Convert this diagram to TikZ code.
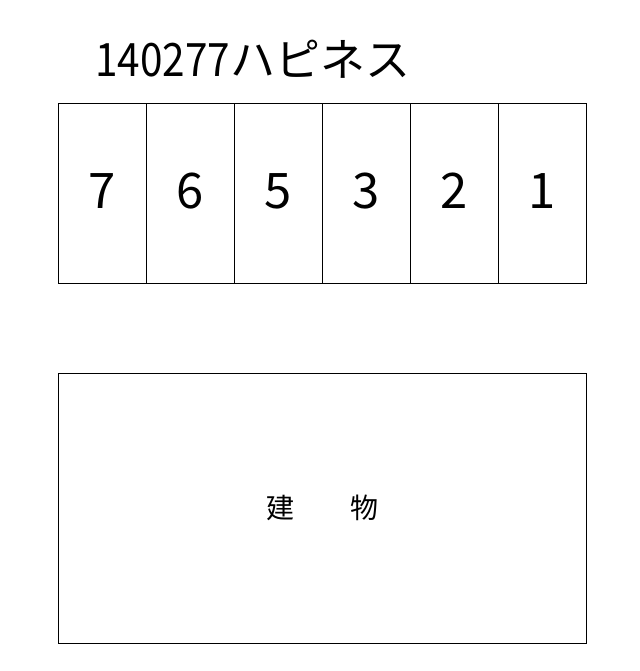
\documentclass[tikz,border=0pt]{standalone}
\usepackage{fontspec}
\newfontfamily\jp{Noto Sans CJK JP}
\newfontfamily\jpd[FakeStretch=0.88]{Noto Sans CJK JP}
\begin{document}
\begin{tikzpicture}[x=1pt,y=-1pt,
  slot/.style={draw=black,line width=0.9pt,minimum width=88pt,minimum height=180pt,inner sep=0pt,outer sep=0pt},
  num/.style={font=\jp\fontsize{49}{49}\selectfont,inner sep=0pt},
  bldg/.style={draw=black,line width=0.9pt,minimum width=528pt,minimum height=270pt,inner sep=0pt,outer sep=0pt,font=\jp\fontsize{28}{28}\selectfont}]
\useasboundingbox (0,0) rectangle (639,671);
\node[anchor=base west,inner sep=0pt] (title) at (95,77)
  {{\jpd\fontsize{46}{46}\selectfont 140277}{\jp\fontsize{45}{45}\selectfont ハピネス}};
\foreach \n/\lab [count=\i from 0] in {s7/7,s6/6,s5/5,s3/3,s2/2,s1/1}{
  \node[slot] (\n) at (102+88*\i,193) {};
  \node[num] (\n t) at (102+88*\i,191) {\lab};
}
\node[bldg] (b) at (322,508) {建　　物};
\end{tikzpicture}
\end{document}
